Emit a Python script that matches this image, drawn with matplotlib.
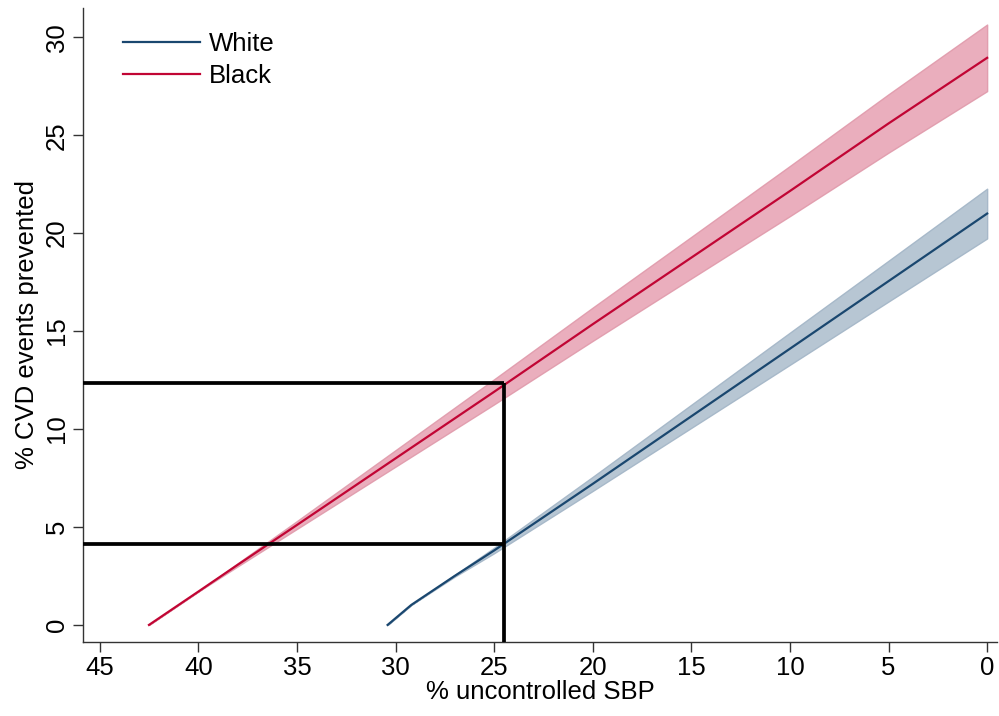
import matplotlib
matplotlib.use("Agg")
import matplotlib.pyplot as plt
import numpy as np

plt.rcParams['font.family'] = ['Liberation Sans', 'DejaVu Sans']

# White series
white_x = [30.4, 29.2, 27.0, 25.0, 20.0, 15.0, 10.0, 5.0, 0.0]
white_y = [0.0, 1.02, 2.5, 3.8, 7.2, 10.65, 14.1, 17.55, 21.0]
white_lo = [0.0, 1.02, 2.46, 3.66, 6.84, 10.06, 13.28, 16.51, 19.73]
white_hi = [0.0, 1.02, 2.55, 3.94, 7.56, 11.24, 14.92, 18.59, 22.27]

# Black series
black_x = [42.5, 40.0, 38.0, 35.0, 30.0, 25.0, 20.0, 15.0, 10.0, 5.0, 0.0]
black_y = [0.0, 1.7, 3.07, 5.1, 8.5, 11.9, 15.35, 18.75, 22.15, 25.6, 28.95]
black_lo = [0.0, 1.7, 2.99, 4.9, 8.08, 11.26, 14.5, 17.69, 20.87, 24.11, 27.25]
black_hi = [0.0, 1.7, 3.15, 5.3, 8.92, 12.54, 16.2, 19.81, 23.43, 27.09, 30.65]

# Reference lines
ref_x = 24.5
ref_y = [12.37, 4.14]

x_ticks = [45, 40, 35, 30, 25, 20, 15, 10, 5, 0]
y_ticks = [0, 5, 10, 15, 20, 25, 30]

c_white = '#1a476f'
c_black = '#c10534'

fig = plt.figure(figsize=(9.99, 7.16), dpi=100)
ax = fig.add_axes([0.083, 0.1034, 0.915, 0.8856])

ax.fill_between(black_x, black_lo, black_hi, facecolor='#e8a5b6', edgecolor='#e09aab', linewidth=1.0, alpha=0.9, zorder=1)
ax.fill_between(white_x, white_lo, white_hi, facecolor='#b3c3d1', edgecolor='#a5b7c8', linewidth=1.0, alpha=0.95, zorder=1)
ax.plot(white_x, white_y, color=c_white, lw=1.6, label='White', zorder=3)
ax.plot(black_x, black_y, color=c_black, lw=1.6, label='Black', zorder=3)

for yv in ref_y:
    ax.plot([46.5, ref_x], [yv, yv], color='black', lw=2.7, zorder=4, solid_capstyle='butt')
ax.plot([ref_x, ref_x], [-2, max(ref_y)], color='black', lw=2.7, zorder=4, solid_capstyle='butt')

ax.set_xlim(45.85, -0.5)
ax.set_ylim(-0.87, 31.5)
ax.set_xticks(x_ticks)
ax.set_yticks(y_ticks)
for s in ['top', 'right']:
    ax.spines[s].set_visible(False)
for s in ['left', 'bottom']:
    ax.spines[s].set_color('#333333')
    ax.spines[s].set_linewidth(1.0)
ax.tick_params(axis='both', direction='out', length=7, width=1, color='#333333', labelsize=18.5, pad=3)
for lab in ax.get_yticklabels():
    lab.set_rotation(90)
    lab.set_va('center')
ax.set_xlabel('% uncontrolled SBP', fontsize=18.5, labelpad=0)
ax.set_ylabel('% CVD events prevented', fontsize=18.5, labelpad=4)

leg = ax.legend(loc='upper left', bbox_to_anchor=(0.044, 0.962), frameon=False, fontsize=18.5,
                handlelength=3.0, handletextpad=0.35, labelspacing=0.3, borderaxespad=0.0,
                borderpad=0.0)

fig.savefig('out.png', dpi=100)
